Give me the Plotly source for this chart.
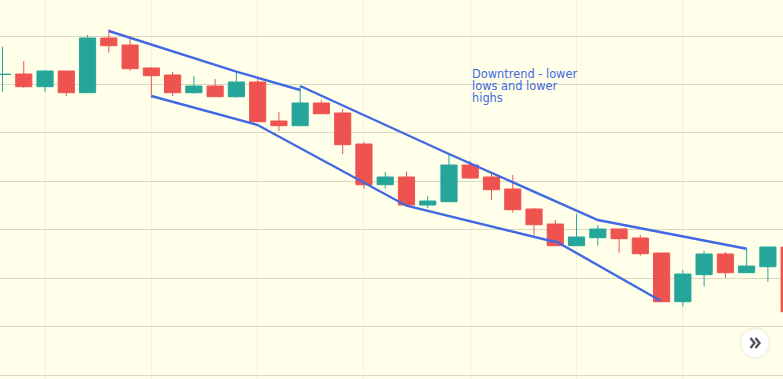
import plotly.graph_objects as go

candle_index = list(range(38))
open_prices = [304.5, 305, 292.3, 308, 286.3, 341, 334, 311, 304, 286.3, 293, 282.3, 297, 258, 253.3, 276, 266, 235, 194.3,
               202, 174, 177.3, 214, 202, 190, 170, 155, 133.3, 141.3, 150, 141, 126, 77.3, 104.3, 125, 106.3, 112.3, 132]
high_prices = [332.3, 318, 309, 308, 344, 349.7, 343, 312, 307, 303, 300, 308.3, 302, 267, 293, 279, 270, 237, 207,
               207.7, 183, 225, 218, 206, 204, 171, 159, 165.3, 154, 150, 144, 126, 109, 128, 127, 130.3, 132, 132]
low_prices = [287.3, 291, 287.3, 283, 286.3, 326.3, 308.3, 281, 283, 285.3, 282.3, 281, 257, 248, 253.3, 265.3, 225, 190.3, 190.3,
              172.3, 171, 177.3, 200, 179, 166.3, 144, 133, 133.3, 133.3, 126.3, 123.3, 77.3, 72.3, 92.3, 101.3, 106.3, 97.3, 67.3]
close_prices = [304.7, 292.3, 308, 286.3, 341, 333.3, 310.3, 303.3, 286.3, 293, 282.3, 297, 257.3, 253.3, 276, 265.3, 234.3, 194.3, 202,
                174, 178, 214, 201, 189.3, 169.3, 154.3, 133.3, 142, 150, 140.3, 125.3, 77.3, 105, 125, 106.3, 113, 132, 67.3]

upper_a_x = [5, 11, 14]
upper_a_y = [348, 307.3, 289]
upper_b_x = [14, 21, 28, 35]
upper_b_y = [293, 225, 159, 130.3]
lower_a_x = [7, 12, 19, 26]
lower_a_y = [283, 254, 173.3, 137]
lower_b_x = [26, 30.95]
lower_b_y = [138, 78.3]

price_grid = [342.8, 294.7, 246.7, 197.7, 149.7, 100.7, 52.7, 3.3]
time_grid = [2, 7, 12, 17, 22, 27, 32]
note_lines = ["Downtrend - lower", "lows and lower", "highs"]
note_prices = [305, 293, 281]

BLUE = "#4169E1"
RED = "#EF5350"
GREEN = "#26A69A"

fig = go.Figure()
fig.add_trace(go.Candlestick(
    x=candle_index, open=open_prices, high=high_prices, low=low_prices, close=close_prices,
    increasing=dict(line=dict(color=GREEN, width=1), fillcolor=GREEN),
    decreasing=dict(line=dict(color=RED, width=1), fillcolor=RED),
    whiskerwidth=0, showlegend=False,
))
for xs, ys in [(upper_a_x, upper_a_y), (upper_b_x, upper_b_y), (lower_a_x, lower_a_y), (lower_b_x, lower_b_y)]:
    fig.add_trace(go.Scatter(x=xs, y=ys, mode="lines", line=dict(color=BLUE, width=2.4), showlegend=False))

for text, price in zip(note_lines, note_prices):
    fig.add_annotation(x=472 / 783, xref="paper", y=price, yref="y", text=text, showarrow=False,
                       xanchor="left", yanchor="middle", align="left", xshift=-1, borderpad=0,
                       font=dict(family="DejaVu Sans", size=11.4, color=BLUE))

# scroll-to-latest button
for r, col in [(17, "rgba(0,0,0,0.012)"), (16, "rgba(0,0,0,0.02)"), (15, "rgba(0,0,0,0.03)"), (14, "#FFFFFF")]:
    fig.add_shape(type="circle", xref="paper", yref="paper",
                  x0=(755 - r) / 783, x1=(755 + r) / 783,
                  y0=(379 - 343 - r) / 379, y1=(379 - 343 + r) / 379,
                  fillcolor=col, line=dict(width=0), layer="above")
for dx in (0, 5):
    x0, x1 = (750.5 + dx) / 783, (754.5 + dx) / 783
    y0, ym, y1 = (379 - 338) / 379, (379 - 343) / 379, (379 - 348) / 379
    fig.add_shape(type="path", xref="paper", yref="paper",
                  path=f"M {x0} {y0} L {x1} {ym} L {x0} {y1}",
                  line=dict(color="#50535E", width=2.4), layer="above")

fig.update_layout(
    width=783, height=379, margin=dict(l=0, r=0, t=0, b=0),
    paper_bgcolor="#FFFFEA", plot_bgcolor="#FFFFEA",
    boxgap=0.24, boxgroupgap=0, showlegend=False,
    xaxis=dict(range=[-0.118, 36.71], rangeslider=dict(visible=False), tickmode="array",
               tickvals=time_grid, showticklabels=False, ticks="", showgrid=True,
               gridcolor="#EFF2E1", gridwidth=1, zeroline=False, showline=False),
    yaxis=dict(range=[0, 379], tickmode="array", tickvals=price_grid, showticklabels=False,
               ticks="", showgrid=True, gridcolor="#D9D9C4", gridwidth=1, zeroline=False, showline=False),
)
fig.write_html("out.html", config=dict(displayModeBar=False), post_script="document.body.style.margin='0';")
